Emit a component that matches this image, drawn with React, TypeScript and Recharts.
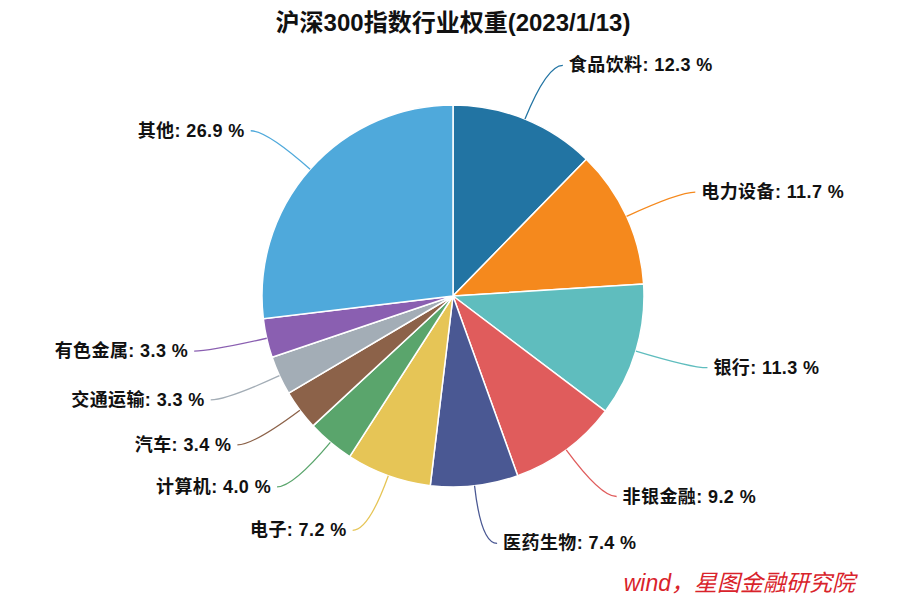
import React from 'react';
import { PieChart, Pie, Cell } from 'recharts';

const industries = ['食品饮料', '电力设备', '银行', '非银金融', '医药生物', '电子', '计算机', '汽车', '交通运输', '有色金属', '其他'];
const weights = [12.3, 11.7, 11.3, 9.2, 7.4, 7.2, 4.0, 3.4, 3.3, 3.3, 26.9];
const colors = ['#2274a3', '#f5891d', '#5fbdbe', '#e05c5c', '#4a5893', '#e6c556', '#5aa56c', '#8c6249', '#a3adb6', '#8a5fb1', '#4fa9db'];

const data = industries.map((name, i) => ({ name, value: weights[i] }));

const RAD = Math.PI / 180;
const FONT = "'Liberation Sans', 'Noto Sans CJK SC', sans-serif";

const renderLabel = (props: any) => {
    const { cx, cy, midAngle, outerRadius, index, name, value } = props;
    const cos = Math.cos(-midAngle * RAD);
    const sin = Math.sin(-midAngle * RAD);
    const sx = cx + outerRadius * cos;
    const sy = cy + outerRadius * sin;
    const mx = cx + (outerRadius + 58) * cos;
    const my = cy + (outerRadius + 58) * sin;
    const right = cos >= 0;
    const ex = mx + (right ? 16 : -16);
    const ey = my;
    return (
        <g>
            <path
                d={`M${sx},${sy} Q${mx},${my} ${ex},${ey}`}
                stroke={colors[index]}
                strokeWidth={1.3}
                fill="none"
            />
            <text
                x={ex + (right ? 6 : -6)}
                y={ey}
                textAnchor={right ? 'start' : 'end'}
                dominantBaseline="central"
                fill="#111"
                fontSize={18}
                fontWeight="bold"
                letterSpacing={0.4}
                fontFamily={FONT}
            >
                {`${name}: ${value.toFixed(1)} %`}
            </text>
        </g>
    );
};

export default function App() {
    return (
        <div style={{ position: 'absolute', left: 0, top: 0, width: 907, height: 602, background: '#fff' }}>
            <PieChart width={907} height={602} margin={{ top: 0, right: 0, bottom: 0, left: 0 }}>
                <text
                    x={453}
                    y={22}
                    textAnchor="middle"
                    dominantBaseline="central"
                    fontSize={24}
                    fontWeight="bold"
                    fill="#111"
                    fontFamily={FONT}
                >
                    沪深300指数行业权重(2023/1/13)
                </text>
                <Pie
                    data={data}
                    dataKey="value"
                    nameKey="name"
                    cx={453}
                    cy={296}
                    outerRadius={191}
                    startAngle={90}
                    endAngle={-270}
                    stroke="#ffffff"
                    strokeWidth={1.5}
                    label={renderLabel}
                    labelLine={false}
                    isAnimationActive={false}
                >
                    {data.map((d, i) => (
                        <Cell key={d.name} fill={colors[i]} />
                    ))}
                </Pie>
                <text
                    x={855}
                    y={583}
                    textAnchor="end"
                    dominantBaseline="central"
                    fontSize={23}
                    fontStyle="italic"
                    fill="#d9232b"
                    fontFamily={FONT}
                >
                    wind，星图金融研究院
                </text>
            </PieChart>
        </div>
    );
}
